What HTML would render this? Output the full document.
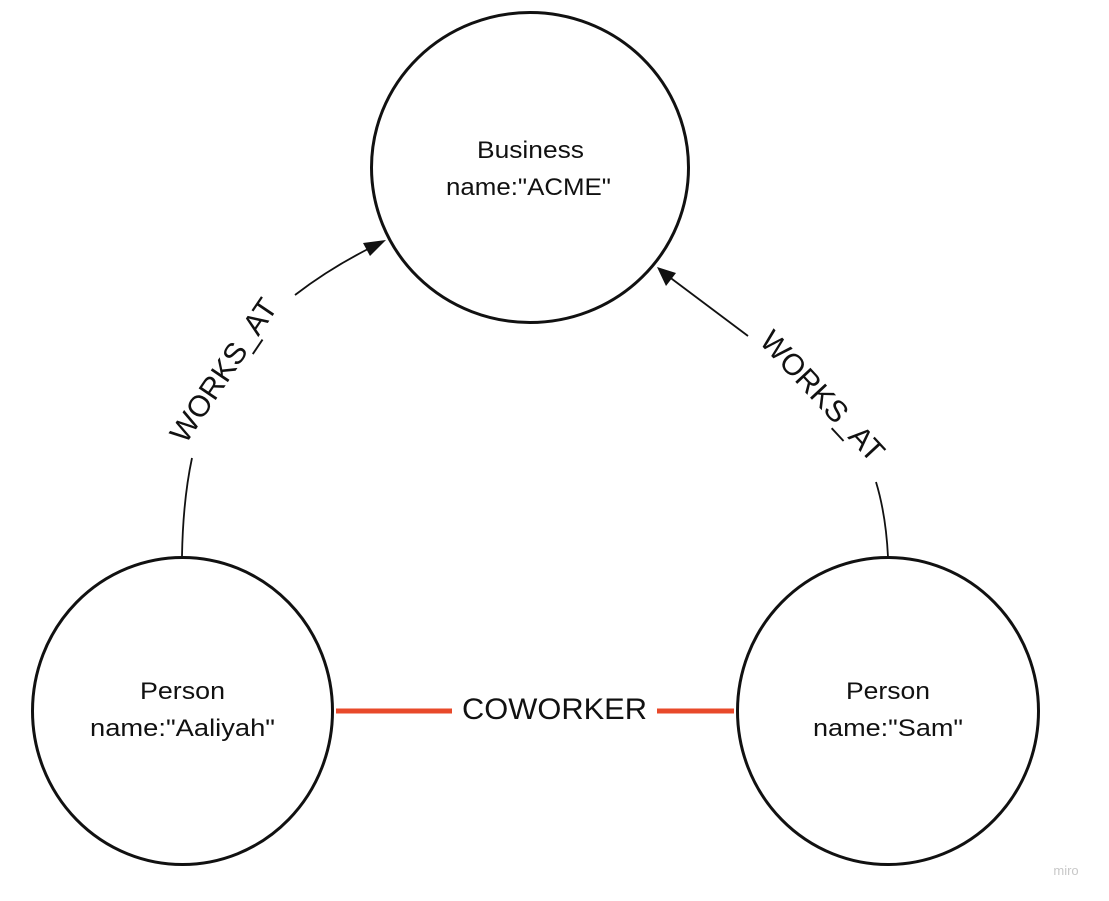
<!DOCTYPE html>
<html><head><meta charset="utf-8"><style>
html,body{margin:0;padding:0;background:#fff;}
svg{display:block;}
text{font-family:"Liberation Sans","DejaVu Sans",sans-serif;fill:#111;}
</style></head><body>
<svg width="1109" height="901" viewBox="0 0 1109 901" xmlns="http://www.w3.org/2000/svg">
<ellipse cx="530" cy="167.5" rx="158.5" ry="155" fill="#fff" stroke="#111" stroke-width="3"/>
<ellipse cx="182.5" cy="711" rx="150" ry="153.5" fill="#fff" stroke="#111" stroke-width="3"/>
<ellipse cx="888" cy="711" rx="150.5" ry="153.5" fill="#fff" stroke="#111" stroke-width="3"/>

<text x="477" y="158" font-size="24" textLength="107" lengthAdjust="spacingAndGlyphs">Business</text>
<text x="446" y="195" font-size="24" textLength="165" lengthAdjust="spacingAndGlyphs">name:"ACME"</text>
<text x="140" y="699" font-size="24" textLength="85" lengthAdjust="spacingAndGlyphs">Person</text>
<text x="90" y="736" font-size="24" textLength="185" lengthAdjust="spacingAndGlyphs">name:"Aaliyah"</text>
<text x="846" y="699" font-size="24" textLength="84" lengthAdjust="spacingAndGlyphs">Person</text>
<text x="813" y="736" font-size="24" textLength="150" lengthAdjust="spacingAndGlyphs">name:"Sam"</text>

<path d="M182,556 Q183,500 192,458" fill="none" stroke="#111" stroke-width="1.8"/>
<path d="M295,295 Q330,268 372,247" fill="none" stroke="#111" stroke-width="1.8"/>
<polygon points="386,240 363,243 370,256" fill="#111"/>
<text x="0" y="0" font-size="30" text-anchor="middle" transform="translate(232,376) rotate(-56)">WORKS_AT</text>

<path d="M748,336 L668,276" fill="none" stroke="#111" stroke-width="1.8"/>
<polygon points="657,267 666,286 676,273" fill="#111"/>
<path d="M876,482 Q886,515 888,557" fill="none" stroke="#111" stroke-width="1.8"/>
<text x="0" y="0" font-size="30" text-anchor="middle" transform="translate(815,403) rotate(47)">WORKS_AT</text>

<line x1="336" y1="711" x2="452" y2="711" stroke="#e8492a" stroke-width="5"/>
<line x1="657" y1="711" x2="734" y2="711" stroke="#e8492a" stroke-width="5"/>
<text x="462" y="719" font-size="30" textLength="185" lengthAdjust="spacingAndGlyphs">COWORKER</text>

<text x="1066" y="875" font-size="13" text-anchor="middle" style="fill:#c8c8c8">miro</text>
</svg>
</body></html>
